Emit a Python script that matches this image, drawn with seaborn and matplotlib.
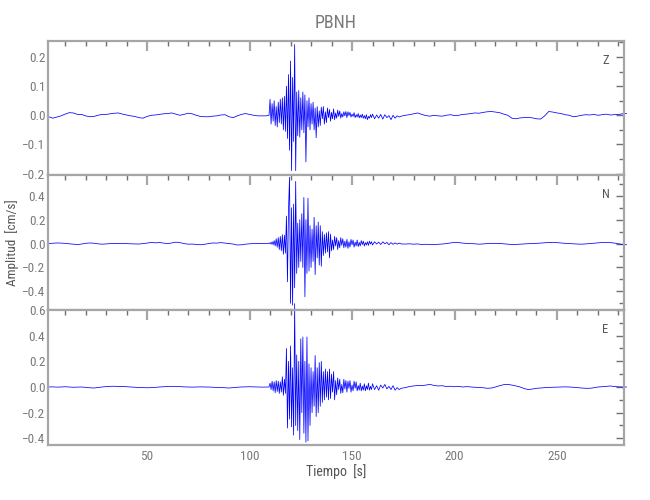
import numpy as np
import pandas as pd
import matplotlib
matplotlib.use("Agg")
import matplotlib.pyplot as plt
import seaborn as sns
from matplotlib.ticker import MultipleLocator

# time grids (s): quiet before, burst (fine), tail, quiet after
t_pre = np.arange(2, 109, 2)
t_burst = np.arange(109.5, 160, 0.5)
t_tail = np.arange(160, 175, 1)
t_post = np.arange(176, 285, 2)

# --- Z component (cm/s) ---
z_pre = [-0.005, -0.010, -0.006, -0.002, 0.004, 0.009, 0.008, 0.003, 0.003,
         -0.002, -0.005, -0.004, 0.000, 0.003, 0.003, 0.005, 0.007, 0.008,
         0.004, 0.001, -0.002, -0.004, -0.008, -0.010, -0.004, 0.000, 0.001,
         0.003, 0.005, 0.006, 0.008, 0.004, 0.000, 0.003, 0.007, 0.005,
         0.000, -0.004, -0.005, -0.005, -0.003, -0.002, 0.001, 0.002, -0.005,
         -0.008, -0.002, 0.003, 0.006, 0.003, 0.000, -0.002, -0.002, -0.002]
z_burst = [0.000, 0.055, -0.030, 0.040, -0.020, 0.050, -0.035, 0.030, -0.040, 0.045,
           -0.025, 0.055, -0.030, 0.060, -0.050, 0.065, -0.055, 0.100, -0.080, 0.140,
           -0.120, 0.186, -0.190, 0.130, -0.090, 0.243, -0.190, 0.080, -0.070, 0.085,
           -0.075, 0.060, -0.050, 0.080, -0.060, 0.070, -0.160, 0.050, -0.040, 0.060,
           -0.050, 0.040, -0.030, 0.045, -0.050, 0.025, -0.077, 0.030, -0.040, 0.015,
           -0.035, 0.028, -0.012, 0.030, -0.030, 0.012, -0.025, 0.025, -0.008, 0.020,
           -0.020, 0.010, -0.012, 0.022, -0.015, 0.008, -0.010, 0.018, -0.004, 0.015,
           -0.010, 0.006, -0.006, 0.012, -0.002, 0.013, -0.008, 0.012, -0.001, 0.010,
           -0.006, 0.004, -0.004, 0.009, -0.008, 0.002, -0.006, 0.006, -0.009, 0.001,
           -0.008, 0.004, -0.010, -0.001, -0.012, 0.002, -0.015, -0.004, -0.010, 0.002,
           -0.008]
z_tail = [0.004, -0.012, 0.001, -0.010, 0.003, -0.013, 0.002, -0.008, -0.001, -0.015,
          0.000, -0.010, -0.002, -0.006, -0.003]
z_post = [0.000, 0.002, 0.005, 0.008, 0.003, -0.001, -0.003, 0.000, -0.002,
          -0.003, 0.000, 0.002, -0.001, 0.000, 0.003, 0.004, 0.006, 0.008,
          0.007, 0.010, 0.012, 0.013, 0.011, 0.009, 0.004, 0.000, -0.010,
          -0.012, -0.009, -0.008, -0.007, -0.009, -0.012, -0.013, -0.002, 0.013,
          0.011, 0.008, 0.006, 0.002, 0.000, -0.005, -0.003, 0.000, 0.002,
          0.001, 0.003, 0.000, 0.002, 0.004, 0.001, 0.002, 0.003, 0.005,
          0.006]

# --- N component ---
n_pre = [0.000, 0.003, 0.005, 0.004, 0.002, -0.002, -0.005, -0.008, -0.004,
         0.002, 0.005, 0.003, -0.002, -0.005, -0.003, 0.000, 0.001, 0.000,
         0.002, 0.000, -0.002, -0.003, -0.004, 0.000, 0.004, 0.010, 0.006,
         0.009, 0.004, 0.000, 0.005, 0.012, 0.008, 0.000, -0.005, -0.004,
         -0.007, -0.010, -0.006, 0.000, 0.005, 0.004, 0.008, 0.004, 0.000,
         -0.004, -0.012, -0.010, -0.005, -0.002, 0.000, 0.001, 0.000, 0.002]
n_burst = [0.000, 0.008, -0.005, 0.015, -0.010, 0.025, -0.020, 0.040, -0.030, 0.050,
           -0.050, 0.060, -0.060, 0.075, -0.090, 0.070, -0.080, 0.230, -0.320, 0.280,
           0.555, -0.500, 0.300, -0.515, 0.330, -0.370, 0.520, -0.250, 0.170, -0.200,
           0.200, -0.150, 0.250, -0.200, 0.386, -0.445, 0.200, -0.250, 0.380, -0.230,
           0.150, -0.200, 0.120, -0.150, 0.220, -0.260, 0.150, -0.120, 0.180, -0.180,
           0.150, -0.190, 0.100, -0.100, 0.076, -0.080, 0.090, -0.070, 0.100, -0.120,
           0.080, -0.060, 0.030, -0.050, 0.060, -0.020, 0.050, -0.050, 0.025, -0.035,
           0.050, -0.015, 0.040, -0.035, 0.020, -0.030, 0.035, -0.040, 0.015, -0.030,
           0.035, -0.010, 0.030, -0.030, 0.012, -0.020, 0.030, -0.025, 0.010, -0.020,
           0.025, -0.008, 0.020, -0.020, 0.008, -0.012, 0.015, -0.015, 0.020, -0.004,
           0.015]
n_tail = [-0.012, 0.015, -0.004, 0.012, -0.008, 0.015, -0.002, 0.010, -0.010, 0.008,
          -0.006, 0.006, -0.005, 0.004, -0.003]
n_post = [-0.004, -0.002, -0.005, -0.003, -0.008, -0.006, -0.007, -0.008, -0.006,
          -0.004, 0.000, 0.005, 0.010, 0.008, 0.004, 0.001, 0.000, -0.002,
          -0.005, -0.003, 0.000, 0.002, 0.000, 0.001, -0.002, -0.005, -0.008,
          -0.007, -0.005, -0.003, -0.001, 0.000, 0.002, 0.004, 0.007, 0.009,
          0.010, 0.008, 0.005, 0.002, 0.000, -0.002, -0.004, -0.005, -0.003,
          0.000, 0.003, 0.006, 0.009, 0.010, 0.008, 0.004, -0.002, -0.008,
          -0.010]

# --- E component ---
e_pre = [0.000, 0.001, -0.001, 0.000, 0.002, 0.000, -0.002, -0.001, 0.000,
         -0.003, -0.006, -0.008, -0.004, 0.000, 0.003, 0.005, 0.006, 0.004,
         0.005, 0.002, 0.000, -0.002, -0.004, -0.005, -0.006, -0.005, -0.003,
         0.000, 0.002, 0.004, 0.005, 0.005, 0.003, 0.001, 0.000, -0.001,
         0.000, 0.001, 0.000, 0.000, -0.002, -0.003, -0.004, -0.006, -0.008,
         -0.005, -0.002, 0.000, 0.001, 0.002, 0.001, 0.000, -0.001, 0.000]
e_burst = [0.000, 0.030, -0.020, 0.045, -0.030, 0.040, -0.045, 0.050, -0.035, 0.045,
           -0.050, 0.040, -0.040, 0.080, -0.065, 0.060, -0.050, 0.300, -0.320, 0.200,
           -0.250, 0.320, -0.310, 0.150, -0.375, 0.650, -0.300, 0.250, -0.340, 0.200,
           -0.410, 0.375, -0.200, 0.390, -0.360, 0.200, -0.430, 0.390, -0.420, 0.180,
           -0.300, 0.150, -0.200, 0.120, -0.150, 0.245, -0.230, 0.150, -0.200, 0.190,
           -0.150, 0.200, -0.120, 0.120, -0.100, 0.140, -0.080, 0.120, -0.100, 0.140,
           -0.090, 0.100, -0.040, 0.120, -0.100, 0.050, -0.060, 0.070, -0.020, 0.060,
           -0.050, 0.020, -0.045, 0.060, -0.015, 0.050, -0.040, 0.045, -0.010, 0.050,
           -0.040, 0.015, -0.030, 0.045, -0.010, 0.040, -0.030, 0.012, -0.025, 0.030,
           -0.030, 0.008, -0.025, 0.025, -0.030, 0.010, -0.020, 0.030, -0.025, 0.005,
           -0.020]
e_tail = [0.025, -0.020, 0.010, -0.025, 0.015, -0.008, 0.020, -0.015, 0.005, -0.020,
          0.010, -0.025, -0.005, -0.020, -0.010]
e_post = [-0.005, 0.004, 0.008, 0.012, 0.010, 0.015, 0.020, 0.012, 0.008,
          0.010, 0.004, 0.006, 0.002, 0.005, 0.000, 0.003, 0.000, -0.002,
          -0.004, -0.006, -0.010, -0.008, 0.000, 0.010, 0.018, 0.020, 0.015,
          0.008, 0.000, -0.012, -0.020, -0.016, -0.010, -0.008, -0.005, -0.003,
          -0.002, -0.001, 0.000, 0.001, 0.000, -0.002, -0.005, -0.008, -0.010,
          -0.010, -0.006, 0.000, 0.002, 0.005, 0.008, 0.004, 0.001, 0.000,
          0.000]

components = ["Z", "N", "E"]
ylims = [(-0.205, 0.255), (-0.556, 0.574), (-0.452, 0.6)]
major_steps = [0.1, 0.2, 0.2]

time = np.concatenate([t_pre, t_burst, t_tail, t_post])
traces = {
    "Z": np.concatenate([z_pre, z_burst, z_tail, z_post]),
    "N": np.concatenate([n_pre, n_burst, n_tail, n_post]),
    "E": np.concatenate([e_pre, e_burst, e_tail, e_post]),
}

sns.set_style("white")
plt.rcParams["font.family"] = ["Roboto Condensed", "Roboto", "DejaVu Sans"]

gray_axis = "#a6a6a6"
gray_text = "#7a7a7a"

fig = plt.figure(figsize=(6.5, 5), dpi=100)
rects = [[0.074, 0.650, 0.886, 0.268],
         [0.074, 0.380, 0.886, 0.270],
         [0.074, 0.110, 0.886, 0.270]]

for i, comp in enumerate(components):
    ax = fig.add_axes(rects[i])
    df = pd.DataFrame({"t": time, "amp": traces[comp]})
    sns.lineplot(data=df, x="t", y="amp", ax=ax, color="#0000ff",
                 linewidth=0.55, sort=False, estimator=None)
    for ln in ax.lines:
        ln.set_clip_on(False)
    ax.set_xlim(1.7, 282.7)
    ax.set_ylim(*ylims[i])
    ax.xaxis.set_major_locator(MultipleLocator(50))
    ax.xaxis.set_minor_locator(MultipleLocator(10))
    ax.yaxis.set_major_locator(MultipleLocator(major_steps[i]))
    ax.yaxis.set_minor_locator(MultipleLocator(major_steps[i] / 2))
    ax.set_xlabel("")
    ax.set_ylabel("")
    for sp in ax.spines.values():
        sp.set_color(gray_axis)
        sp.set_linewidth(1.6)
    ax.tick_params(which="both", direction="in", top=True, right=True,
                   colors=gray_axis, labelcolor=gray_text, labelsize=9.5)
    ax.tick_params(axis="x", which="major", length=7, width=1.6)
    ax.tick_params(axis="x", which="minor", length=3.5, width=1.0, color="#707070")
    ax.tick_params(axis="y", which="major", length=6, width=1.0, color="#707070")
    ax.tick_params(axis="y", which="minor", length=3.5, width=1.0, color="#707070")
    ax.tick_params(axis="y", pad=2)
    if i < 2:
        ax.tick_params(axis="x", labelbottom=False)
    ax.text(0.968, 0.855, comp, transform=ax.transAxes, ha="center",
            va="center", color="#555555", fontsize=9)

fig.text(0.517, 0.955, "PBNH", ha="center", va="center",
         color=gray_text, fontsize=13)
fig.text(0.019, 0.514, "Amplitud  [cm/s]", rotation=90, ha="center",
         va="center", color="#555555", fontsize=9.5)
fig.text(0.517, 0.057, "Tiempo  [s]", ha="center", va="center",
         color="#555555", fontsize=10)

fig.savefig("out.png", dpi=100)
